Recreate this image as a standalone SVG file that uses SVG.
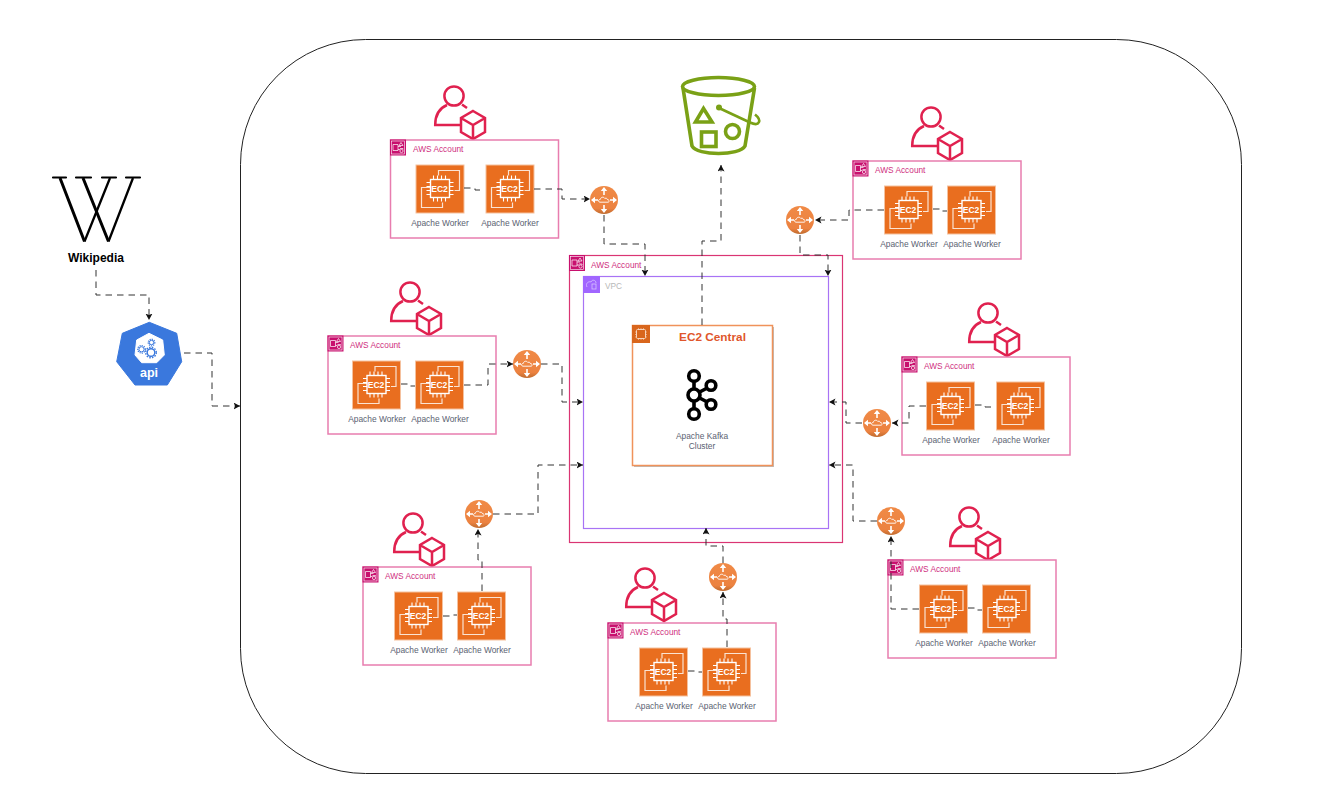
<svg xmlns="http://www.w3.org/2000/svg" width="1329" height="808" viewBox="0 0 1329 808">
<style>
text{font-family:"Liberation Sans",Arial,sans-serif}
.acct{fill:#fff;stroke:#E87DAF;stroke-width:1.5}
.acctT{font-size:8.3px;fill:#CF2F80}
.lbl{font-size:8.4px;fill:#5A6272;text-anchor:middle}
.ec2t{font-size:8.5px;font-weight:700;fill:#fff;text-anchor:middle}
.edge{fill:none;stroke:#333;stroke-width:1;stroke-dasharray:6.5 5}
</style>
<defs>
<marker id="arr" markerWidth="8" markerHeight="8" refX="6.5" refY="3.5" orient="auto" markerUnits="userSpaceOnUse"><path d="M0 0L6.5 3.5L0 7L1.6 3.5Z" fill="#111"/></marker>
<linearGradient id="rg" x1="0" y1="0" x2="0" y2="1"><stop offset="0" stop-color="#F08A46"/><stop offset=".8" stop-color="#EC8240"/><stop offset="1" stop-color="#BE6A2E"/></linearGradient>
<symbol id="ec2" width="49" height="49" viewBox="0 0 49 49" overflow="visible">
<rect x=".5" y=".5" width="48" height="48" fill="#E96E1F" stroke="#F5C19E" stroke-width="1"/>
<path d="M23 11V6H44V26H39M15 23H6V43H27V38" fill="none" stroke="#FBE3D2" stroke-width="1.2"/>
<rect x="15" y="15" width="19" height="18" fill="#E96E1F" stroke="#fff" stroke-width="1.4"/>
<path d="M18 15V11M22 15V11M26 15V11M30 15V11M18 33V37M22 33V37M26 33V37M30 33V37M15 18H11M15 22H11M15 26H11M15 30H11M34 18H38M34 22H38M34 26H38M34 30H38" stroke="#fff" stroke-width="1.1" fill="none"/>
</symbol>
<symbol id="acctI" width="16" height="16" viewBox="0 0 16 16" overflow="visible">
<rect width="16" height="16" fill="#C8106E"/>
<path d="M3 5H8V11H3ZM8 7H11M8 10H10" fill="none" stroke="#fff" stroke-width=".7"/>
<path d="M11 3L13 6H9ZM10 9H13V10" fill="none" stroke="#fff" stroke-width=".7"/>
<circle cx="11.5" cy="11.5" r="1.6" fill="none" stroke="#fff" stroke-width=".7"/>
<rect x="1.5" y="1.5" width="13" height="13" fill="none" stroke="#fff" stroke-width=".6"/>
</symbol>
<symbol id="person" width="52" height="56" viewBox="0 0 52 56" overflow="visible">
<g fill="none" stroke="#E0214F" stroke-width="2.5">
<circle cx="20" cy="11" r="9.6"/>
<path d="M26 40H1.2C1.2 29 6 23 13 20M28 19.5L33 23"/>
<path d="M39 26L51 33V47L39 54L27 47V33ZM27 33L39 40L51 33M39 40V54"/>
</g>
</symbol>
<g id="router">
<circle r="14" fill="url(#rg)"/>
<path d="M0 -5V-10M0 5V10M-6 0H-10M6 0H10" fill="none" stroke="#fff" stroke-width="1.6"/>
<path d="M0 -13L-3.200 -9H3.200ZM0 13L-3.200 9H3.200ZM-13 0L-9 -3.200V3.200ZM13 0L9 -3.200V3.200Z" fill="#fff"/>
<path d="M-4 2.200C-6 2.200 -6 -.6 -3.700 -.6C-3.300 -3 -.4 -3.500 .8 -1.600C2.300 -2.200 3.700 -1.200 3.400 -.4C5.600 -.4 5.600 2.200 4 2.200Z" fill="#EE8642" stroke="#fff" stroke-width=".9"/>
</g>
</defs>

<rect id="bg" width="1329" height="808" fill="#fff"/>
<g id="cloud-boundary"><rect x="240.500" y="39.500" width="1001" height="734" rx="125" ry="125" fill="#fff" stroke="#222" stroke-width="1"/></g>

<g id="main-account">
<rect x="569.500" y="255.500" width="273" height="287" fill="#fff" stroke="#DA3573" stroke-width="1.2"/>
<use href="#acctI" x="569" y="255"/>
<text class="acctT" x="591" y="268">AWS Account</text>
</g>
<g id="vpc">
<rect x="583.500" y="276.500" width="245" height="252" fill="#fff" stroke="#A873F5" stroke-width="1.2"/>
<rect x="583" y="276" width="17" height="17" fill="#A166FF"/>
<path d="M587 287C585 283 589 281 591 282C592 279 596 280 596 283" fill="none" stroke="#D8C2FF" stroke-width=".8"/>
<rect x="592" y="284" width="4" height="5" fill="none" stroke="#D8C2FF" stroke-width=".8"/>
<text x="605" y="289" font-size="8.3" fill="#B8B8B8">VPC</text>
</g>
<g id="ec2-central">
<rect x="634" y="327" width="140" height="140" fill="#BDBDBD"/>
<rect x="632.500" y="325.500" width="140" height="140" fill="#fff" stroke="#F0925A" stroke-width="1.5"/>
<rect x="632" y="325" width="18" height="18" fill="#D9661C"/>
<rect x="636.500" y="329.500" width="9" height="9" rx="1" fill="none" stroke="#F8D5BC" stroke-width="1"/>
<path d="M638.500 328V330M641 328V330M643.500 328V330M638.500 338V340M641 338V340M643.500 338V340M635 332H637M635 334.500H637M635 337H637M645 332H647M645 334.500H647M645 337H647" stroke="#F8D5BC" stroke-width=".6"/>
<text x="712.500" y="341" font-size="11.800" font-weight="700" fill="#E0562B" text-anchor="middle">EC2 Central</text>
<g fill="#fff" stroke="#000" stroke-width="3.600">
<path d="M694 376V414M694 395L711 386M694 395L711 404" fill="none"/>
<circle cx="694" cy="376" r="5.300"/><circle cx="694" cy="395" r="6"/><circle cx="694" cy="414" r="5.300"/><circle cx="711" cy="385.500" r="4.800"/><circle cx="711" cy="404.500" r="4.800"/>
</g>
<text class="lbl" x="702" y="439">Apache Kafka</text>
<text class="lbl" x="702" y="449">Cluster</text>
</g>

<g id="wikipedia">
<g fill="none" stroke="#000">
<path d="M53 177.500H66M76 177.500H91M102 177.500H116M126 177.500H140" stroke-width="2.200" stroke-linecap="round"/>
<path d="M60 178L84.500 241.500M83 178L108.500 241.500" stroke-width="3"/>
<path d="M84.500 241.500L110 178M108.500 241.500L133 178" stroke-width="2.300"/>
</g>
<text x="96" y="262" font-size="12" font-weight="700" fill="#000" text-anchor="middle">Wikipedia</text>
</g>
<g id="api">
<path d="M149.300 322.300L176.700 333.300L181.700 361.700L167.300 385H135L116.700 361.700L122.300 333.300Z" fill="#3A78DD" stroke="#3A78DD" stroke-linejoin="round"/>
<path d="M149 333.300L162.700 340L164.300 355L156.700 362.700H141.700L135 355L136.700 340Z" fill="#fff" stroke="#fff" stroke-linejoin="round"/>
<g fill="none" stroke="#3A78DD">
<circle cx="151" cy="352.500" r="3.800" stroke-width="1.400"/><circle cx="151" cy="352.500" r="5.300" stroke-width="1.400" stroke-dasharray="1.500 1.300"/>
<circle cx="141.500" cy="349.300" r="2.600" stroke-width="1"/><circle cx="141.500" cy="349.300" r="3.800" stroke-width="1.200" stroke-dasharray="1.200 1"/>
<circle cx="151.500" cy="342.500" r="2.200" stroke-width="1"/><circle cx="151.500" cy="342.500" r="3.300" stroke-width="1.200" stroke-dasharray="1.200 1"/>
</g>
<text x="149" y="377" font-size="12.500" font-weight="700" fill="#fff" text-anchor="middle">api</text>
</g>
<g id="s3-bucket" fill="none" stroke="#7AA116" stroke-width="3.600">
<ellipse cx="718.500" cy="86.500" rx="36" ry="9"/>
<path d="M683 88L692 146C697 156 740 156 745 146L754.500 88"/>
<path d="M703.500 108.500L695.500 122H712Z"/>
<rect x="701.500" y="132" width="14.500" height="14.500"/>
<circle cx="732.500" cy="131.500" r="7"/>
<path d="M719 108L750 122.500C760 127 762 120 755 114.500" stroke-width="2.600"/>
<circle cx="719" cy="107.500" r="3" fill="#7AA116" stroke="none"/>
</g>

<g id="account-top-left">
<use href="#person" x="434" y="85"/>
<rect class="acct" x="390.500" y="140" width="168" height="98"/>
<use href="#acctI" x="390" y="139.500"/>
<text class="acctT" x="413" y="152">AWS Account</text>
<use href="#ec2" x="415.500" y="164.500"/><text class="ec2t" x="439.500" y="191.500">EC2</text><text class="lbl" x="440" y="226">Apache Worker</text>
<use href="#ec2" x="485.500" y="164.500"/><text class="ec2t" x="509.500" y="191.500">EC2</text><text class="lbl" x="510" y="226">Apache Worker</text>
</g>
<g id="account-top-right">
<use href="#person" x="911" y="106"/>
<rect class="acct" x="853" y="161" width="168" height="98"/>
<use href="#acctI" x="852.500" y="160.500"/>
<text class="acctT" x="875" y="173">AWS Account</text>
<use href="#ec2" x="884" y="185.500"/><text class="ec2t" x="908" y="212.500">EC2</text><text class="lbl" x="909" y="247">Apache Worker</text>
<use href="#ec2" x="947" y="185.500"/><text class="ec2t" x="971" y="212.500">EC2</text><text class="lbl" x="972" y="247">Apache Worker</text>
</g>
<g id="account-left">
<use href="#person" x="390" y="281"/>
<rect class="acct" x="328" y="336" width="168" height="98"/>
<use href="#acctI" x="327.500" y="335.500"/>
<text class="acctT" x="350" y="348">AWS Account</text>
<use href="#ec2" x="352" y="360.500"/><text class="ec2t" x="376" y="387.500">EC2</text><text class="lbl" x="377" y="422">Apache Worker</text>
<use href="#ec2" x="415" y="360.500"/><text class="ec2t" x="439" y="387.500">EC2</text><text class="lbl" x="440" y="422">Apache Worker</text>
</g>
<g id="account-right">
<use href="#person" x="968" y="302"/>
<rect class="acct" x="902" y="357" width="168" height="98"/>
<use href="#acctI" x="901.500" y="356.500"/>
<text class="acctT" x="924" y="369">AWS Account</text>
<use href="#ec2" x="926" y="381.500"/><text class="ec2t" x="950" y="408.500">EC2</text><text class="lbl" x="951" y="443">Apache Worker</text>
<use href="#ec2" x="996" y="381.500"/><text class="ec2t" x="1020" y="408.500">EC2</text><text class="lbl" x="1021" y="443">Apache Worker</text>
</g>
<g id="account-bottom-left">
<use href="#person" x="393" y="512"/>
<rect class="acct" x="363" y="567" width="168" height="98"/>
<use href="#acctI" x="362.500" y="566.500"/>
<text class="acctT" x="385" y="579">AWS Account</text>
<use href="#ec2" x="394" y="591.500"/><text class="ec2t" x="418" y="618.500">EC2</text><text class="lbl" x="419" y="653">Apache Worker</text>
<use href="#ec2" x="457" y="591.500"/><text class="ec2t" x="481" y="618.500">EC2</text><text class="lbl" x="482" y="653">Apache Worker</text>
</g>
<g id="account-bottom-mid">
<use href="#person" x="625" y="567"/>
<rect class="acct" x="608" y="623" width="168" height="98"/>
<use href="#acctI" x="607.500" y="622.500"/>
<text class="acctT" x="630" y="635">AWS Account</text>
<use href="#ec2" x="639" y="647.500"/><text class="ec2t" x="663" y="674.500">EC2</text><text class="lbl" x="664" y="709">Apache Worker</text>
<use href="#ec2" x="702" y="647.500"/><text class="ec2t" x="726" y="674.500">EC2</text><text class="lbl" x="727" y="709">Apache Worker</text>
</g>
<g id="account-bottom-right">
<use href="#person" x="949" y="506"/>
<rect class="acct" x="888" y="560" width="168" height="98"/>
<use href="#acctI" x="887.500" y="559.500"/>
<text class="acctT" x="910" y="572">AWS Account</text>
<use href="#ec2" x="919" y="584.500"/><text class="ec2t" x="943" y="611.500">EC2</text><text class="lbl" x="944" y="646">Apache Worker</text>
<use href="#ec2" x="982" y="584.500"/><text class="ec2t" x="1006" y="611.500">EC2</text><text class="lbl" x="1007" y="646">Apache Worker</text>
</g>

<g id="connectors">
<path class="edge" marker-end="url(#arr)" d="M96 270V295H149V320"/>
<path class="edge" marker-end="url(#arr)" d="M184 353H212V406H240"/>
<path class="edge" d="M464 188H475V190H485"/>
<path class="edge" marker-end="url(#arr)" d="M534 189H562V199H590"/>
<path class="edge" marker-end="url(#arr)" d="M604 215V244H645V276"/>
<path class="edge" marker-end="url(#arr)" d="M702 325V241H721V165"/>
<path class="edge" d="M933 209H940V211H947"/>
<path class="edge" marker-end="url(#arr)" d="M884 210H849V220H815"/>
<path class="edge" marker-end="url(#arr)" d="M800 235V255H828V276"/>
<path class="edge" d="M401 384H408V386H415"/>
<path class="edge" marker-end="url(#arr)" d="M464 385H488V364H513"/>
<path class="edge" marker-end="url(#arr)" d="M541 364H562V402H583"/>
<path class="edge" d="M975 405H985V407H996"/>
<path class="edge" marker-end="url(#arr)" d="M926 406H909V423H892"/>
<path class="edge" marker-end="url(#arr)" d="M862 423H846V402H829"/>
<path class="edge" d="M968 608H975V610H982"/>
<path class="edge" marker-end="url(#arr)" d="M919 609H891V536"/>
<path class="edge" marker-end="url(#arr)" d="M877 521H853V465H829"/>
<path class="edge" d="M443 616H450V615H457"/>
<path class="edge" marker-end="url(#arr)" d="M482 591V560H478V529"/>
<path class="edge" marker-end="url(#arr)" d="M493 514H538V465H583"/>
<path class="edge" d="M688 671H695V672H702"/>
<path class="edge" marker-end="url(#arr)" d="M727 647V619H723V592"/>
<path class="edge" marker-end="url(#arr)" d="M723 563V546H706V528"/>
</g>

<g id="router-1"><use href="#router" x="604" y="200"/></g>
<g id="router-2"><use href="#router" x="800" y="220"/></g>
<g id="router-3"><use href="#router" x="527" y="364"/></g>
<g id="router-4"><use href="#router" x="877" y="423"/></g>
<g id="router-5"><use href="#router" x="891" y="521"/></g>
<g id="router-6"><use href="#router" x="723" y="577"/></g>
<g id="router-7"><use href="#router" x="479" y="514"/></g>
</svg>
